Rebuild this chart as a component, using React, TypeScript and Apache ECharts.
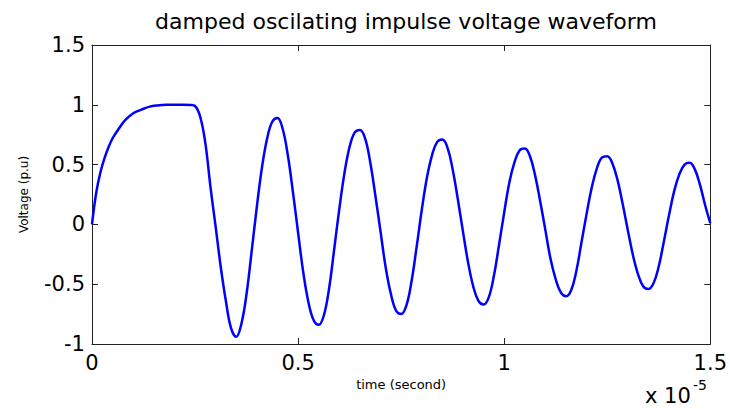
import React, { useEffect, useRef } from "react";
import * as echarts from "echarts";

// time in microseconds
const TIME_US = [
  0, 0.1, 0.2, 0.3, 0.4, 0.5, 0.6, 0.7, 0.8, 1.0, 1.2, 1.4, 1.6, 1.8, 2.0, 2.2, 2.4, 2.5,
  2.625, 2.75, 2.875, 3.0, 3.125, 3.25, 3.375, 3.5,
  3.625, 3.75, 3.875, 4.0, 4.125, 4.25, 4.375, 4.5,
  4.625, 4.75, 4.875, 5.0, 5.125, 5.25, 5.375, 5.5,
  5.625, 5.75, 5.875, 6.0, 6.125, 6.25, 6.375, 6.5,
  6.625, 6.75, 6.875, 7.0, 7.125, 7.25, 7.375, 7.5,
  7.625, 7.75, 7.875, 8.0, 8.125, 8.25, 8.375, 8.5,
  8.625, 8.75, 8.875, 9.0, 9.125, 9.25, 9.375, 9.5,
  9.625, 9.75, 9.875, 10.0, 10.125, 10.25, 10.375, 10.5,
  10.625, 10.75, 10.875, 11.0, 11.125, 11.25, 11.375, 11.5,
  11.625, 11.75, 11.875, 12.0, 12.125, 12.25, 12.375, 12.5,
  12.625, 12.75, 12.875, 13.0, 13.125, 13.25, 13.375, 13.5,
  13.625, 13.75, 13.875, 14.0, 14.125, 14.25, 14.375, 14.5,
  14.625, 14.75, 14.875, 15.0,
];
// voltage in per-unit
const VOLTAGE = [
  0, 0.26, 0.43, 0.55, 0.645, 0.72, 0.775, 0.825, 0.87, 0.93, 0.96, 0.985, 0.995, 1.0, 1.0, 1.0, 0.998, 0.99,
  0.9, 0.68, 0.31, -0.02, -0.36, -0.645, -0.87, -0.94,
  -0.83, -0.58, -0.22, 0.15, 0.48, 0.72, 0.86, 0.89,
  0.8, 0.58, 0.27, -0.07, -0.4, -0.65, -0.8, -0.84,
  -0.76, -0.54, -0.21, 0.13, 0.43, 0.65, 0.77, 0.79,
  0.72, 0.52, 0.24, -0.06, -0.36, -0.58, -0.72, -0.75,
  -0.68, -0.48, -0.19, 0.12, 0.39, 0.58, 0.69, 0.71,
  0.64, 0.46, 0.21, -0.06, -0.32, -0.52, -0.64, -0.67,
  -0.61, -0.43, -0.17, 0.1, 0.35, 0.52, 0.62, 0.635,
  0.57, 0.41, 0.19, -0.05, -0.29, -0.46, -0.57, -0.6,
  -0.55, -0.39, -0.15, 0.09, 0.31, 0.47, 0.56, 0.57,
  0.51, 0.37, 0.17, -0.05, -0.26, -0.42, -0.52, -0.54,
  -0.49, -0.35, -0.14, 0.08, 0.28, 0.42, 0.5, 0.515,
  0.46, 0.33, 0.16, 0.01,
];

const TITLE = "damped oscilating impulse voltage waveform";
const X_NAME = "time (second)";
const Y_NAME = "Voltage (p.u)";
const X_MIN = 0;
const X_MAX = 1.5e-5;
const X_INTERVAL = 0.5e-5;
const Y_MIN = -1;
const Y_MAX = 1.5;
const Y_INTERVAL = 0.5;
const X_EXP_BASE = "x 10";
const X_EXP_POWER = "-5";

const FONT = "DejaVu Sans";

export default function App() {
  const ref = useRef<HTMLDivElement>(null);
  useEffect(() => {
    if (!ref.current) return;
    const chart = echarts.init(ref.current, undefined, { renderer: "svg" });
    const data = TIME_US.map((t, i) => [t * 1e-6, VOLTAGE[i]]);
    const axisLine = { show: true, onZero: false, lineStyle: { color: "#222", width: 1 } };
    const tick = { show: true, inside: true, length: 6, lineStyle: { color: "#222", width: 1 } };
    const fmtX = (v: number) => String(Math.round(v * 1e6) / 10);
    chart.setOption({
      animation: false,
      backgroundColor: "#fff",
      title: {
        text: TITLE,
        left: 401,
        top: 5,
        textAlign: "center",
        textStyle: { fontFamily: FONT, fontSize: 22, fontWeight: "normal", color: "#000" },
      },
      grid: { left: 92, right: 19, top: 45, bottom: 65, containLabel: false },
      xAxis: [
        {
          type: "value",
          position: "bottom",
          min: X_MIN,
          max: X_MAX,
          interval: X_INTERVAL,
          name: X_NAME,
          nameLocation: "middle",
          nameGap: 31,
          nameTextStyle: { fontFamily: FONT, fontSize: 13, color: "#000" },
          axisLine,
          axisTick: tick,
          splitLine: { show: false },
          axisLabel: {
            fontFamily: FONT,
            fontSize: 21,
            color: "#000",
            margin: 8,
            formatter: fmtX,
            showMinLabel: true,
            showMaxLabel: true,
          },
        },
        {
          type: "value",
          position: "top",
          min: X_MIN,
          max: X_MAX,
          interval: X_INTERVAL,
          axisLine,
          axisTick: tick,
          splitLine: { show: false },
          axisLabel: { show: false },
        },
      ],
      yAxis: [
        {
          type: "value",
          position: "left",
          min: Y_MIN,
          max: Y_MAX,
          interval: Y_INTERVAL,
          name: Y_NAME,
          nameLocation: "middle",
          nameGap: 62,
          nameTextStyle: { fontFamily: FONT, fontSize: 12, color: "#000" },
          axisLine,
          axisTick: tick,
          splitLine: { show: false },
          axisLabel: {
            fontFamily: FONT,
            fontSize: 21,
            color: "#000",
            margin: 7,
            showMinLabel: true,
            showMaxLabel: true,
          },
        },
        {
          type: "value",
          position: "right",
          min: Y_MIN,
          max: Y_MAX,
          interval: Y_INTERVAL,
          axisLine,
          axisTick: tick,
          splitLine: { show: false },
          axisLabel: { show: false },
        },
      ],
      series: [
        {
          type: "line",
          xAxisIndex: 0,
          yAxisIndex: 0,
          data,
          smooth: 0.4,
          showSymbol: false,
          symbol: "none",
          lineStyle: { color: "#0000ff", width: 2.5 },
        },
      ],
      graphic: [
        {
          type: "text",
          x: 645,
          y: 395.5,
          style: {
            text: X_EXP_BASE,
            fontFamily: FONT,
            fontSize: 21,
            fill: "#000",
            textAlign: "left",
            textVerticalAlign: "middle",
          },
        },
        {
          type: "text",
          x: 693,
          y: 385,
          style: {
            text: X_EXP_POWER,
            fontFamily: FONT,
            fontSize: 14,
            fill: "#000",
            textAlign: "left",
            textVerticalAlign: "middle",
          },
        },
      ],
    });
    return () => chart.dispose();
  }, []);
  return (
    <div
      ref={ref}
      style={{ position: "fixed", left: 0, top: 0, width: 730, height: 409, background: "#fff" }}
    />
  );
}
